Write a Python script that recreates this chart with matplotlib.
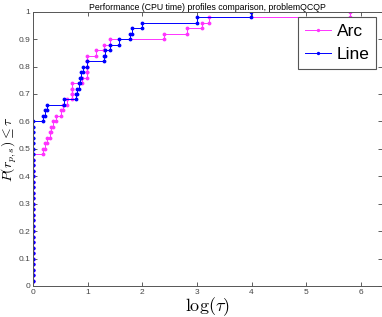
import numpy as np
import matplotlib
matplotlib.use("Agg")
import matplotlib.pyplot as plt

plt.rcParams['mathtext.fontset'] = 'cm'
plt.rcParams['font.family'] = ['Liberation Sans', 'DejaVu Sans']

# log(tau) of each problem (50 problems), per solver
arc_tau = [0.0] * 24 + [0.18, 0.22, 0.26, 0.31, 0.33, 0.37, 0.42, 0.51, 0.55, 0.62,
                        0.72, 0.72, 0.72, 0.89, 0.99, 0.99, 0.99, 0.99, 1.16, 1.30,
                        1.41, 2.40, 2.82, 3.10, 3.22, 5.80]
line_tau = [0.0] * 30 + [0.18, 0.22, 0.25, 0.57, 0.79, 0.81, 0.84, 0.86, 0.88, 0.92,
                         0.99, 1.30, 1.32, 1.41, 1.58, 1.77, 1.82, 2.00, 3.00, 3.98]
series_names = ["Arc", "Line"]
series_colors = ["#ff33ff", "#0000ff"]
x_ticks = [0, 1, 2, 3, 4, 5, 6]
y_ticks = [0, 0.1, 0.2, 0.3, 0.4, 0.5, 0.6, 0.7, 0.8, 0.9, 1.0]
y_tick_labels = ["0", "0.1", "0.2", "0.3", "0.4", "0.5", "0.6", "0.7", "0.8", "0.9", "1"]


def stair_vertices(taus):
    x = np.sort(np.asarray(taus, dtype=float))
    y = np.arange(1, len(x) + 1) / len(x)
    xs = np.empty(2 * len(x) - 1)
    ys = np.empty(2 * len(x) - 1)
    xs[0::2] = x
    ys[0::2] = y
    xs[1::2] = x[1:]
    ys[1::2] = y[:-1]
    return xs, ys


fig = plt.figure(figsize=(3.82, 3.17), dpi=100)
ax = fig.add_axes([0.0864, 0.0978, 0.9128, 0.8653])

for taus, name, col in zip([arc_tau, line_tau], series_names, series_colors):
    xs, ys = stair_vertices(taus)
    ax.plot(xs, ys, color=col, lw=0.7, marker='.', ms=3.5, label=name)

xmax = 1.1 * max(max(arc_tau), max(line_tau))
ax.set_xlim(0, xmax)
ax.set_ylim(0, 1)
ax.set_xticks(x_ticks)
ax.set_yticks(y_ticks)
ax.set_yticklabels(y_tick_labels)
ax.tick_params(direction='in', top=True, right=True, length=3, width=0.6,
               labelsize=6, colors='#444444', pad=2)
for s in ax.spines.values():
    s.set_color('#555555')
    s.set_linewidth(0.7)

ax.set_title("Performance (CPU time) profiles comparison, problemQCQP", fontsize=6.3, pad=1.5)
ax.set_xlabel(r"$\log(\tau)$", fontsize=13, labelpad=0)
ax.set_ylabel(r"$P(r_{p,s}) \leq \tau$", fontsize=10, va='center')
ax.yaxis.set_label_coords(-0.069, 0.5)

leg = ax.legend(loc='upper right', fontsize=12.5, handlelength=1.5, handletextpad=0.3,
                borderpad=0.4, labelspacing=0.45, fancybox=False, framealpha=1,
                borderaxespad=0.3, markerscale=0.8)
leg.get_frame().set_edgecolor('#555555')
leg.get_frame().set_linewidth(0.8)

fig.savefig("out.png", dpi=100)
